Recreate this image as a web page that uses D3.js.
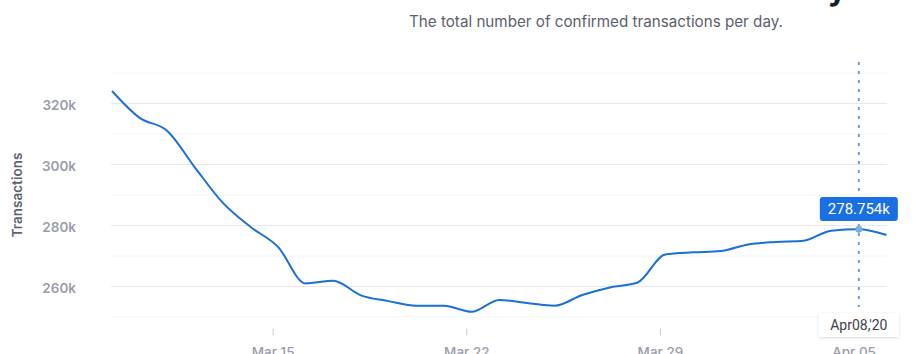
<!DOCTYPE html>
<html><head><meta charset="utf-8">
<script src="https://cdn.jsdelivr.net/npm/d3@7"></script>
<style>
html,body{margin:0;padding:0;background:#fff;}
svg{display:block;font-family:Inter,"Noto Sans",sans-serif;}
</style></head>
<body><svg id="c" width="916" height="354"></svg>
<script>
const titleText = "Confirmed Transactions Per Day";
const subtitleText = "The total number of confirmed transactions per day.";
const yAxisTitle = "Transactions";
const dates = ["2020-03-09T04:36","2020-03-10T04:36","2020-03-11T04:36","2020-03-12T04:36","2020-03-13T04:36",
 "2020-03-14T04:36","2020-03-15T04:36","2020-03-16T04:36","2020-03-17T04:36","2020-03-18T04:36",
 "2020-03-19T04:36","2020-03-20T04:36","2020-03-21T04:36","2020-03-22T04:36","2020-03-23T04:36",
 "2020-03-24T04:36","2020-03-25T04:36","2020-03-26T04:36","2020-03-27T04:36","2020-03-28T04:36",
 "2020-03-29T04:36","2020-03-30T04:36","2020-03-31T04:36","2020-04-01T04:36","2020-04-02T04:36",
 "2020-04-03T04:36","2020-04-04T04:36","2020-04-05T04:36","2020-04-06T04:36"];
const transactions = [324100,315300,311000,299000,287500,279600,273000,261000,261900,257100,
 255200,253700,253700,251700,255600,254600,253700,257200,259700,261300,
 270500,271200,271600,273800,274600,275000,278300,278754,276900];
const yTicks = [260000,280000,300000,320000];
const yGrid = [250000,260000,270000,280000,290000,300000,310000,320000,330000];
const xTicks = ["2020-03-15","2020-03-22","2020-03-29","2020-04-05"];
const xTickLabels = ["Mar 15","Mar 22","Mar 29","Apr 05"];
const hoverIndex = 27;
const hoverValueLabel = "278.754k";
const hoverDateLabel = "Apr08,'20";

const parse = s => new Date(s);
const data = dates.map((d,i)=>({t:parse(d), v:transactions[i]}));
const svg = d3.select("#c");

const x = d3.scaleTime().domain([data[0].t, data[data.length-1].t]).range([112, 886.5]);
const y = d3.scaleLinear().domain([250000, 330000]).range([317, 73]);

// title (mostly clipped off the top)
svg.append("text").attr("x",594).attr("y",-0.5).attr("text-anchor","middle")
  .attr("font-size",32).attr("font-weight",700).attr("fill","#1c1d2b").text(titleText);
svg.append("text").attr("x",596).attr("y",27).attr("text-anchor","middle")
  .attr("font-size",15.2).attr("fill","#5c5f6d").text(subtitleText);

// gridlines
svg.append("g").selectAll("line").data(yGrid).join("line")
  .attr("x1",111).attr("x2",887)
  .attr("y1",d=>y(d)).attr("y2",d=>y(d))
  .attr("stroke",d=>yTicks.includes(d)?"#e7e8ee":"#f3f4f7").attr("stroke-width",1);

// y axis
const yAxis = d3.axisLeft(y).tickValues(yTicks).tickSize(0).tickPadding(0)
  .tickFormat(d=>d3.format("d")(d/1000)+"k");
const gy = svg.append("g").attr("transform","translate(76,0)").call(yAxis);
gy.select(".domain").remove();
gy.selectAll("text").attr("font-family","Inter, sans-serif").attr("font-size",13.5)
  .attr("font-weight",600).attr("fill","#9a9cab").attr("dy","0.62em").attr("y",-2);

svg.append("text").attr("transform","translate(22,195) rotate(-90)").attr("text-anchor","middle")
  .attr("font-size",13.5).attr("font-weight",600).attr("fill","#5d6170").text(yAxisTitle);

// x axis
const xAxis = d3.axisBottom(x).tickValues(xTicks.map(s=>new Date(s+"T00:00")))
  .tickSize(7).tickPadding(12).tickFormat((d,i)=>xTickLabels[i]);
const gx = svg.append("g").attr("transform","translate(0,328.5)").call(xAxis);
gx.select(".domain").remove();
gx.selectAll("line").attr("stroke","#c9cbd4");
gx.selectAll("text").attr("font-family","Inter, sans-serif").attr("font-size",13.5)
  .attr("font-weight",500).attr("fill","#9a9cab");

// line
const line = d3.line().x(d=>x(d.t)).y(d=>y(d.v)).curve(d3.curveMonotoneX);
svg.append("path").datum(data).attr("d",line).attr("fill","none")
  .attr("stroke","#1a6fd9").attr("stroke-width",2);

// hover crosshair
const hp = data[hoverIndex];
const hx = x(hp.t), hy = y(hp.v);
svg.append("line").attr("x1",hx).attr("x2",hx).attr("y1",62).attr("y2",307)
  .attr("stroke","#6a9fd6").attr("stroke-width",2).attr("stroke-dasharray","3,6");
svg.append("circle").attr("cx",hx).attr("cy",hy).attr("r",3.5).attr("fill","#7cacdf");

// value tooltip
svg.append("rect").attr("x",hx-39).attr("y",197).attr("width",78).attr("height",24)
  .attr("rx",3).attr("fill","#1a6fe3");
svg.append("text").attr("x",hx).attr("y",214).attr("text-anchor","middle")
  .attr("font-family","Roboto, sans-serif").attr("font-size",15).attr("fill","#fff").text(hoverValueLabel);

// date tooltip
const defs = svg.append("defs");
const f = defs.append("filter").attr("id","sh").attr("x","-20%").attr("y","-30%").attr("width","140%").attr("height","160%");
f.append("feDropShadow").attr("dx",0).attr("dy",1).attr("stdDeviation",1.5).attr("flood-color","#000").attr("flood-opacity",0.15);
svg.append("rect").attr("x",hx-40).attr("y",313).attr("width",80).attr("height",24)
  .attr("rx",2).attr("fill","#fff").attr("filter","url(#sh)");
svg.append("text").attr("x",hx).attr("y",330).attr("text-anchor","middle")
  .attr("font-family","Roboto, sans-serif").attr("font-size",14).attr("fill","#3e4150").text(hoverDateLabel);
</script></body></html>
